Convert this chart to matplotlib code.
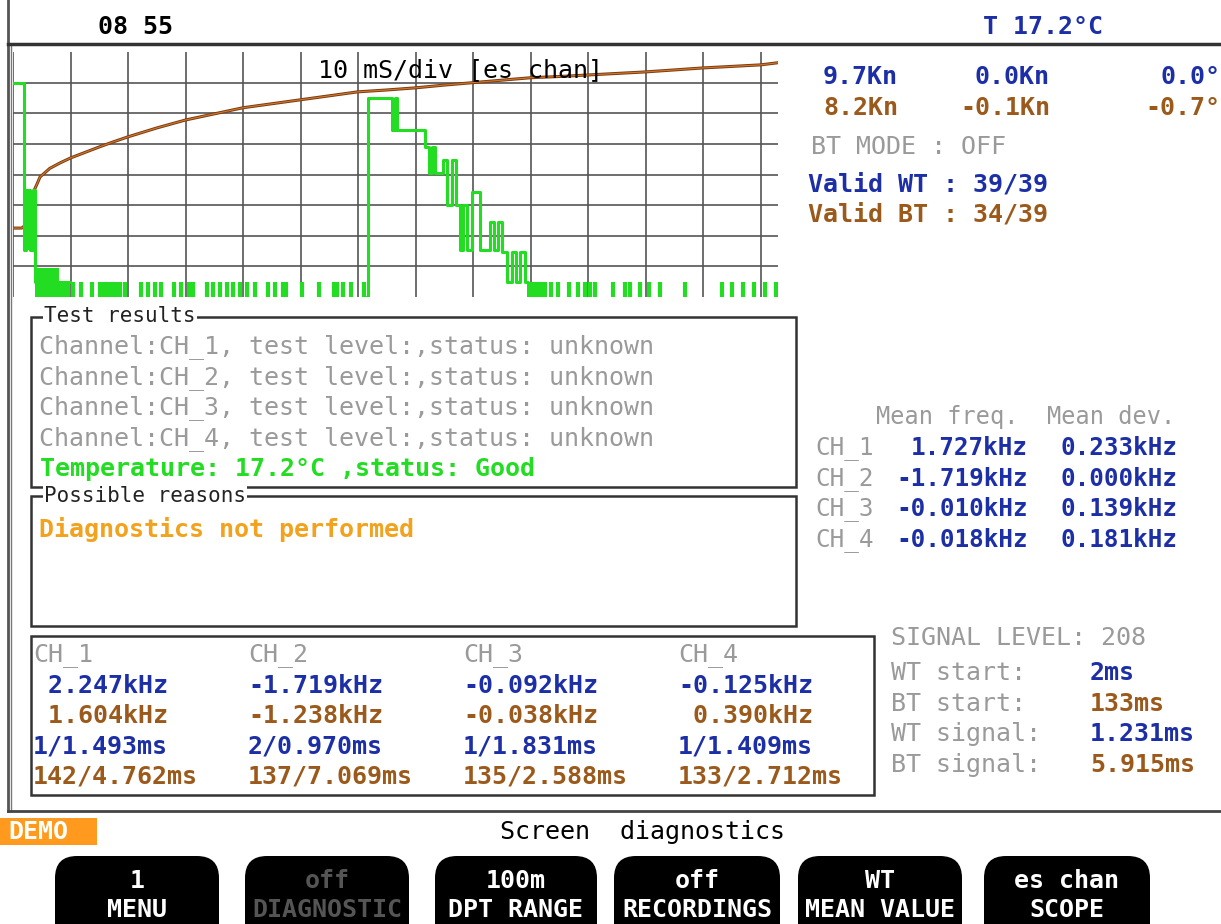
"""
Echo sounder diagnostics screen: scope trace plus measurement read-outs
"""
import matplotlib.pyplot as plt
from matplotlib.patches import Rectangle, FancyBboxPatch

BLUE = "#1c2fa6"
BROWN = "#9b5a1c"
GRAY = "#9a9a9a"
GREEN = "#22dd22"
ORANGE = "#f2a21c"
MONO = "DejaVu Sans Mono"

# ---- scope data (x in ms, y in divisions) ----
brown_t = [0, 1.5, 2.2, 2.5, 3.0, 3.6, 4.2, 4.7, 5.5, 6.4, 8.2, 10, 12.5, 15, 17.5, 20, 25, 30, 35,
           40, 45, 50, 55, 60, 65, 70, 75, 80, 85, 90, 95, 100, 110, 120, 130, 133]
brown_v = [2.25, 2.25, 2.35, 2.55, 3.17, 3.45, 3.7, 3.92, 4.05, 4.2, 4.38, 4.54, 4.72, 4.9, 5.07,
           5.23, 5.52, 5.78, 5.98, 6.18, 6.31, 6.44, 6.57, 6.7, 6.76, 6.83, 6.92, 7.0, 7.08, 7.16,
           7.2, 7.25, 7.35, 7.48, 7.58, 7.65]

green_left_t = [0, 1.9, 2.2, 3.0, 3.5, 3.9, 8.0, 9.9]
green_left_v = [7.0, 1.55, 3.5, 1.55, 3.5, 0.5, 0.5, 0.5]

green_right_t = [61.0, 61.7, 65.9, 66.4, 66.8, 71.6, 72.3, 72.8, 73.4, 74.7, 75.4, 76.3, 77.0, 77.7,
                 78.3, 78.9, 79.8, 81.2, 82.9, 83.6, 84.3, 85.0, 85.9, 86.7, 87.4, 88.2, 89.0, 89.3]
green_right_v = [0.0, 6.5, 5.45, 6.5, 5.45, 4.9, 4.05, 4.9, 4.05, 4.48, 3.0, 4.48, 3.0, 1.54,
                 3.0, 1.54, 3.43, 1.54, 2.45, 1.54, 2.45, 1.48, 0.49, 1.47, 0.49, 1.47, 0.49, 0.49]

# filled blocks: start, end, bottom, top
block_x0 = [2.2, 3.8, 8.0, 89.3]
block_x1 = [3.3, 8.0, 9.9, 92.8]
block_lo = [1.55, 0.0, 0.0, 0.0]
block_hi = [3.5, 0.95, 0.5, 0.5]

tick_ms = [10.4, 11.8, 13.7, 15.1, 15.8, 16.5, 17.2, 17.9, 18.6, 19.5, 22.2, 23.5, 24.7, 25.7,
           28.0, 29.2, 30.6, 31.3, 33.7, 34.8, 36.0, 37.2, 38.2, 39.5, 40.7, 42.1, 44.3, 45.5,
           46.9, 47.4, 50.2, 53.2, 55.8, 56.3, 57.4, 58.7, 61.0,
           93.5, 94.7, 96.6, 98.2, 99.4, 100.3, 101.1, 104.4, 106.4, 107.2, 109.0, 110.5,
           112.4, 116.9, 123.2, 125.0, 126.9, 128.8, 130.7, 132.6]
tick_h = 0.5

# ---- read-outs ----
speed_blue = ["9.7Kn", "0.0Kn", "0.0°"]
speed_brown = ["8.2Kn", "-0.1Kn", "-0.7°"]
test_lines = ["Channel:CH_1, test level:,status: unknown",
              "Channel:CH_2, test level:,status: unknown",
              "Channel:CH_3, test level:,status: unknown",
              "Channel:CH_4, test level:,status: unknown"]
temp_line = "Temperature: 17.2°C ,status: Good"
reason_line = "Diagnostics not performed"

channels = ["CH_1", "CH_2", "CH_3", "CH_4"]
mean_freq = ["1.727kHz", "-1.719kHz", "-0.010kHz", "-0.018kHz"]
mean_dev = ["0.233kHz", "0.000kHz", "0.139kHz", "0.181kHz"]

ch_wt_freq = [" 2.247kHz", "-1.719kHz", "-0.092kHz", "-0.125kHz"]
ch_bt_freq = [" 1.604kHz", "-1.238kHz", "-0.038kHz", " 0.390kHz"]
ch_wt_time = ["1/1.493ms", "2/0.970ms", "1/1.831ms", "1/1.409ms"]
ch_bt_time = ["142/4.762ms", "137/7.069ms", "135/2.588ms", "133/2.712ms"]

sig_labels = ["WT start:", "BT start:", "WT signal:", "BT signal:"]
sig_values = ["2ms", "133ms", "1.231ms", "5.915ms"]
sig_colors = [BLUE, BROWN, BLUE, BROWN]

btn_top = ["1", "off", "100m", "off", "WT", "es chan"]
btn_bottom = ["MENU", "DIAGNOSTIC", "DPT RANGE", "RECORDINGS", "MEAN VALUE", "SCOPE"]

fig = plt.figure(figsize=(12.21, 9.24), dpi=100)
bg = fig.add_axes([0, 0, 1, 1])
bg.set_xlim(0, 1221)
bg.set_ylim(924, 0)
bg.axis("off")


def txt(x, y, s, color, size=18, weight="normal", ha="left"):
    return bg.text(x, y, s, color=color, fontsize=size, fontweight=weight, ha=ha, va="center",
                   family=MONO)


# frame
bg.plot([8, 8], [0, 811], color="#555555", lw=2)
bg.plot([11, 11], [44, 811], color="#777777", lw=1)
bg.plot([8, 1221], [44, 44], color="#333333", lw=2.5)
bg.plot([8, 1221], [811, 811], color="#444444", lw=2)

txt(98, 27, "08 55", "black", weight="bold")
txt(983, 27, "T 17.2°C", BLUE, weight="bold")

# right top panel
for x, s in zip([823, 975, 1160], speed_blue):
    txt(x, 77, s, BLUE, weight="bold")
for x, s in zip([823, 960, 1145], speed_brown):
    txt(x, 108, s, BROWN, weight="bold")
txt(811, 147, "BT MODE : OFF", GRAY)
txt(808, 185, "Valid WT : 39/39", BLUE, weight="bold")
txt(808, 215, "Valid BT : 34/39", BROWN, weight="bold")

# test results box
bg.add_patch(Rectangle((31, 317), 765, 170, fill=False, ec="#333333", lw=1.8))
t = txt(44, 316, "Test results", "#222222", size=15)
t.set_bbox(dict(fc="white", ec="none", pad=1))
for i, s in enumerate(test_lines):
    txt(39, 347 + i * 30.5, s, GRAY)
txt(40, 469, temp_line, GREEN, weight="bold")

bg.add_patch(Rectangle((31, 496), 765, 130, fill=False, ec="#333333", lw=1.8))
t = txt(44, 496, "Possible reasons", "#222222", size=15)
t.set_bbox(dict(fc="white", ec="none", pad=1))
txt(39, 530, reason_line, ORANGE, weight="bold")

# mean freq panel
txt(876, 417, "Mean freq.  Mean dev.", GRAY, size=17)
for i in range(4):
    y = 448 + i * 30.7
    txt(815, y, channels[i], GRAY, size=17.5)
    txt(1028, y, mean_freq[i], BLUE, size=17.5, weight="bold", ha="right")
    txt(1060, y, mean_dev[i], BLUE, size=17.5, weight="bold")

# channel table
bg.add_patch(Rectangle((31, 636), 843, 159, fill=False, ec="#333333", lw=1.8))
for j, x in enumerate([33, 248, 463, 678]):
    txt(x, 655, channels[j], GRAY)
    txt(x, 686, ch_wt_freq[j], BLUE, weight="bold")
    txt(x, 716, ch_bt_freq[j], BROWN, weight="bold")
    txt(x, 746, ch_wt_time[j], BLUE, weight="bold")
    txt(x, 777, ch_bt_time[j], BROWN, weight="bold")

# signal panel
txt(891, 638, "SIGNAL LEVEL: 208", GRAY)
for i in range(4):
    y = 673 + i * 30.7
    txt(891, y, sig_labels[i], GRAY)
    txt(1090, y, sig_values[i], sig_colors[i], weight="bold")

# footer
bg.add_patch(Rectangle((0, 818), 97, 27, fc="#ff9a1e", ec="none"))
txt(8, 832, "DEMO", "white", weight="bold")
txt(500, 832, "Screen  diagnostics", "black")

btn_x0 = [55, 245, 435, 614, 798, 984]
btn_x1 = [219, 409, 597, 780, 962, 1150]
for i in range(6):
    bg.add_patch(FancyBboxPatch((btn_x0[i], 856), btn_x1[i] - btn_x0[i], 100,
                                boxstyle="round,pad=0,rounding_size=22", fc="black", ec="none"))
    c = "#555555" if i == 1 else "white"
    cx = (btn_x0[i] + btn_x1[i]) / 2
    txt(cx, 881, btn_top[i], c, weight="bold", ha="center")
    txt(cx, 910, btn_bottom[i], c, weight="bold", ha="center")

# ---- scope ----
sc = fig.add_axes([13 / 1221, 1 - 297 / 924, 765 / 1221, 245 / 924])
sc.set_xlim(0, 133)
sc.set_ylim(0, 8)
sc.axis("off")
for tm in range(0, 131, 10):
    sc.axvline(tm, color="#555555", lw=1.2, zorder=1)
for d in range(1, 8):
    sc.axhline(d, color="#555555", lw=1.2, zorder=1)

sc.plot(brown_t, brown_v, color="#7a3c12", lw=2.2, zorder=3)
sc.plot(brown_t, brown_v, color="#d4782a", lw=0.8, zorder=3)

sc.plot(green_left_t, green_left_v, drawstyle="steps-post", color=GREEN, lw=2.2, zorder=4)
sc.plot(green_right_t, green_right_v, drawstyle="steps-post", color=GREEN, lw=2.2, zorder=4)
for x0, x1, lo, hi in zip(block_x0, block_x1, block_lo, block_hi):
    sc.bar(x0, hi - lo, width=x1 - x0, bottom=lo, align="edge", color=GREEN, zorder=4)
sc.vlines(tick_ms, 0, tick_h, color=GREEN, lw=3, zorder=4)

sc.text(318, 70, "10 mS/div [es chan]", transform=bg.transData, fontsize=18, family=MONO,
        va="center", color="black", zorder=5)

fig.savefig("out.png", dpi=100)
